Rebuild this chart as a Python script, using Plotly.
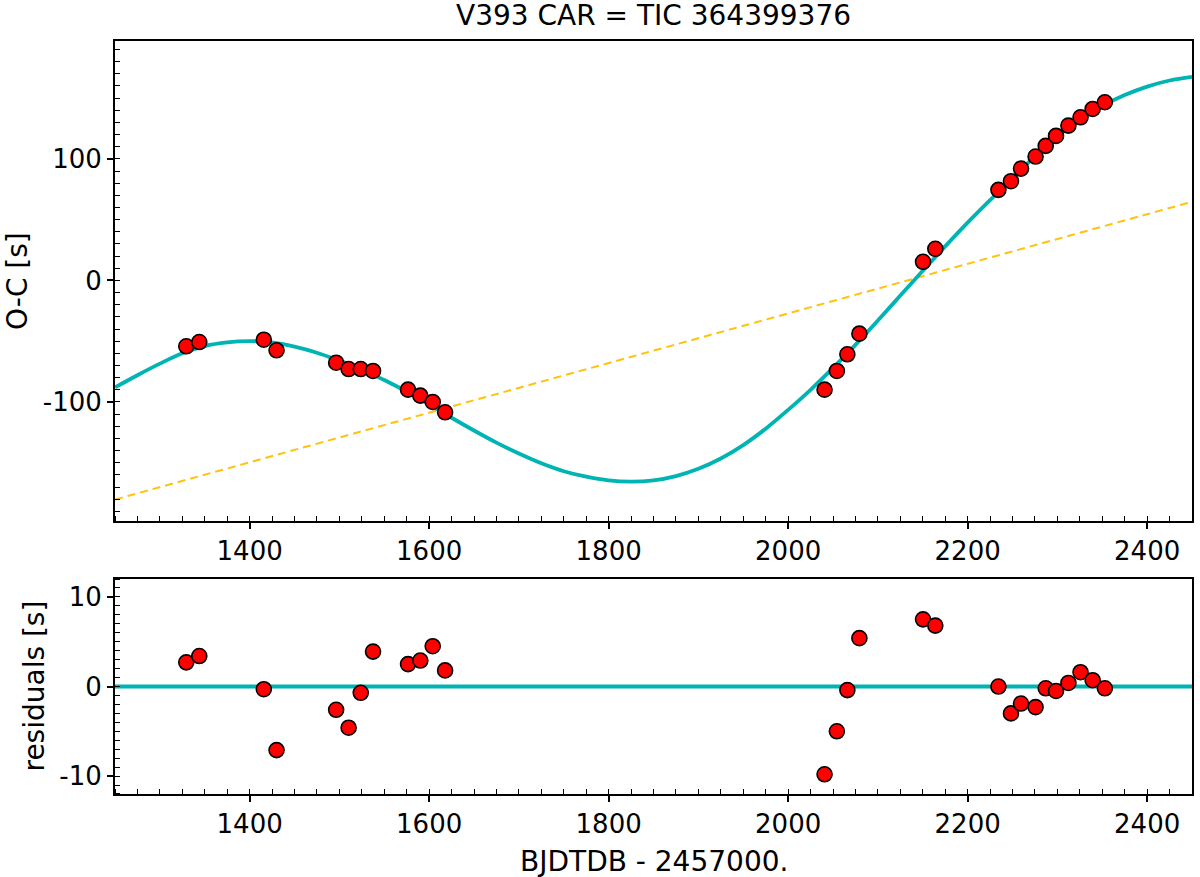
"""
O-C diagram for V393 Car (TIC 364399376):
  top    : eclipse timing O-C with fitted LTTE curve and linear term
  bottom : residuals of the fit
"""

import plotly.graph_objects as go
from plotly.subplots import make_subplots

# ---------------------------------------------------------------------------
# DATA
# ---------------------------------------------------------------------------

# observed eclipse times, BJD_TDB - 2457000
T_OBS = [
    1329.4, 1343.9, 1415.8, 1430.0, 1496.4, 1510.3, 1523.8, 1537.5,
    1576.5, 1590.2, 1604.0, 1617.8,
    2040.6, 2054.3, 2066.0, 2079.4, 2150.3, 2164.0,
    2234.3, 2248.3, 2259.5, 2275.7, 2287.0, 2298.5, 2312.3, 2325.8,
    2339.3, 2352.9,
]

# O-C [s]
OC_OBS = [
    -54.2, -50.7, -48.8, -57.5, -67.7, -72.9, -72.9, -74.5,
    -89.9, -94.8, -100.0, -108.5,
    -89.9, -74.5, -60.8, -43.8, 15.3, 26.0,
    74.5, 81.6, 92.0, 101.9, 110.7, 118.9, 127.4, 134.2,
    141.1, 146.6,
]

# residuals [s]
RESID = [
    2.7, 3.4, -0.3, -7.1, -2.6, -4.6, -0.7, 3.9,
    2.5, 2.9, 4.5, 1.8,
    -9.8, -5.0, -0.4, 5.4, 7.5, 6.8,
    0.0, -3.0, -1.9, -2.3, -0.2, -0.5, 0.4, 1.6,
    0.7, -0.2,
]

# fitted model curve, sampled from the plot
CURVE_T = [
    1250, 1275, 1300, 1325, 1350, 1375, 1400, 1425, 1450, 1475,
    1500, 1525, 1550, 1575, 1600, 1625, 1650, 1675, 1700, 1725,
    1750, 1775, 1800, 1825, 1850, 1875, 1900, 1925, 1950, 1975,
    2000, 2025, 2050, 2075, 2100, 2125, 2150, 2175, 2200, 2225,
    2250, 2275, 2300, 2325, 2350, 2375, 2400, 2425, 2450,
]
CURVE_OC = [
    -88.0, -78.0, -68.5, -60.0, -54.0, -51.0, -50.0, -51.0, -54.5, -59.5,
    -66.0, -73.0, -82.0, -91.5, -102.0, -113.0, -123.5, -133.5, -142.5, -150.5,
    -157.0, -161.5, -164.5, -165.5, -164.5, -161.0, -155.0, -146.5, -135.5, -122.0,
    -106.5, -90.0, -72.0, -53.0, -33.0, -12.5, 8.0, 28.0, 47.5, 66.0,
    84.0, 102.0, 118.5, 132.0, 143.5, 152.5, 159.5, 164.5, 167.5,
]

# linear (period) term
TREND_T = [1250, 2450]
TREND_OC = [-180.3, 64.7]

# zero line in the residual panel
ZERO_T = [1250, 2450]
ZERO_RES = [0, 0]

# tick labels (plain hyphen minus, as in the original)
OC_TICKS = [-100, 0, 100]
OC_TICKTEXT = ["-100", "0", "100"]
RES_TICKS = [-10, 0, 10]
RES_TICKTEXT = ["-10", "0", "10"]

TITLE = "V393 CAR = TIC 364399376"
XLABEL = "BJDTDB - 2457000."

# ---------------------------------------------------------------------------
# STYLE
# ---------------------------------------------------------------------------

FONT = "DejaVu Sans"
TICKFONT = 26
FONTSIZE = 28

CYAN = "#00b4b4"
GOLD = "#ffc20e"
RED = "#ff0000"

MARKER = dict(color=RED, size=15, line=dict(color="black", width=1.6))

# ---------------------------------------------------------------------------
# FIGURE
# ---------------------------------------------------------------------------

fig = make_subplots(rows=2, cols=1, vertical_spacing=0.08)

# top panel
fig.add_trace(
    go.Scatter(x=TREND_T, y=TREND_OC, mode="lines",
               line=dict(color=GOLD, width=2, dash="8px,5px")),
    row=1, col=1,
)
fig.add_trace(
    go.Scatter(x=CURVE_T, y=CURVE_OC, mode="lines", line_shape="spline",
               line=dict(color=CYAN, width=3.8)),
    row=1, col=1,
)
fig.add_trace(
    go.Scatter(x=T_OBS, y=OC_OBS, mode="markers", marker=MARKER),
    row=1, col=1,
)

# residual panel
fig.add_trace(
    go.Scatter(x=ZERO_T, y=ZERO_RES, mode="lines",
               line=dict(color=CYAN, width=3.8)),
    row=2, col=1,
)
fig.add_trace(
    go.Scatter(x=T_OBS, y=RESID, mode="markers", marker=MARKER),
    row=2, col=1,
)

# ---------------------------------------------------------------------------
# LAYOUT
# ---------------------------------------------------------------------------

fig.update_layout(
    width=1200,
    height=877,
    margin=dict(l=115, r=6, t=41, b=83),
    plot_bgcolor="white",
    paper_bgcolor="white",
    font=dict(family=FONT, size=TICKFONT, color="black"),
    showlegend=False,
)

axis_common = dict(
    showline=True,
    linecolor="black",
    linewidth=2,
    mirror=True,
    showgrid=False,
    zeroline=False,
    ticks="outside",
    ticklen=6,
    tickwidth=1.6,
    tickcolor="black",
    tickfont=dict(family=FONT, size=TICKFONT),
)

fig.update_xaxes(
    **axis_common,
    range=[1250, 2450],
    tick0=1400, dtick=200,
    minor=dict(ticks="inside", dtick=25, ticklen=5, tickwidth=1.4, tickcolor="black"),
)

fig.update_yaxes(**axis_common)
fig.update_yaxes(
    range=[-198, 197], tickvals=OC_TICKS, ticktext=OC_TICKTEXT, domain=[0.3625, 1.0],
    minor=dict(ticks="inside", dtick=10, tick0=0, ticklen=5, tickwidth=1.4, tickcolor="black"),
    row=1, col=1,
)
fig.update_yaxes(
    range=[-12, 12], tickvals=RES_TICKS, ticktext=RES_TICKTEXT, domain=[0.0, 0.2855],
    minor=dict(ticks="inside", dtick=1, tick0=0, ticklen=5, tickwidth=1.4, tickcolor="black"),
    row=2, col=1,
)

# title and axis labels as annotations for exact placement
fig.add_annotation(
    text=TITLE, xref="paper", yref="paper", x=0.5, y=1.0,
    yshift=26, yanchor="middle", showarrow=False,
    font=dict(family=FONT, size=FONTSIZE),
)
fig.add_annotation(
    text=XLABEL, xref="paper", yref="paper", x=0.5, y=0.0,
    yshift=-67, yanchor="middle", showarrow=False,
    font=dict(family=FONT, size=FONTSIZE),
)
fig.add_annotation(
    text="O-C [s]", xref="paper", yref="y domain", x=0.0, y=0.5,
    xshift=-98, xanchor="center", yanchor="middle", textangle=-90,
    showarrow=False, font=dict(family=FONT, size=FONTSIZE),
)
fig.add_annotation(
    text="residuals [s]", xref="paper", yref="y2 domain", x=0.0, y=0.5,
    xshift=-80, xanchor="center", yanchor="middle", textangle=-90,
    showarrow=False, font=dict(family=FONT, size=FONTSIZE),
)

# drop the default 8px body margin so the figure fills the window exactly
fig.write_html(
    "out.html",
    config={"displayModeBar": False},
    post_script="document.body.style.margin = '0';",
)
